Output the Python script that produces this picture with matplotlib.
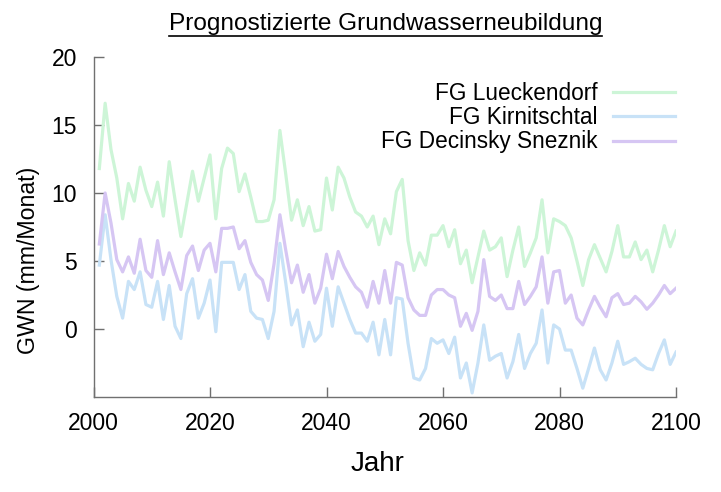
import numpy as np
import matplotlib
matplotlib.use('Agg')
import matplotlib.pyplot as plt
from matplotlib.lines import Line2D

# --- Daten (Jahreswerte 2001-2100) ---
jahre = list(range(2001, 2101))

lueckendorf = [
    11.8, 16.6, 13.2, 11.1, 8.1, 10.7, 9.4, 11.9, 10.2, 9.0,
    10.8, 8.3, 12.3, 9.5, 6.8, 9.2, 11.6, 9.4, 11.1, 12.8,
    8.1, 11.8, 13.3, 12.9, 10.1, 11.4, 9.7, 7.9, 7.9, 8.0,
    9.5, 14.6, 11.4, 8.0, 9.5, 7.6, 9.0, 7.2, 7.3, 11.1,
    8.75, 11.9, 11.1, 9.7, 8.6, 8.3, 7.5, 8.3, 6.2, 8.1,
    7.0, 10.1, 11.0, 6.5, 4.3, 5.6, 4.7, 6.9, 6.9, 7.6,
    6.05, 7.3, 4.8, 5.8, 3.4, 5.3, 7.2, 5.8, 6.05, 6.7,
    3.85, 5.8, 7.5, 4.6, 5.6, 6.7, 9.5, 5.6, 8.1, 7.9,
    7.6, 6.7, 5.0, 3.2, 5.1, 6.2, 5.2, 4.2, 5.7, 7.6,
    5.3, 5.3, 6.4, 5.1, 5.8, 4.2, 5.8, 7.6, 6.05, 7.2,
]

kirnitschtal = [
    4.7, 8.4, 5.1, 2.4, 0.8, 3.5, 2.9, 4.2, 1.8, 1.6,
    3.5, 0.7, 3.2, 0.2, -0.7, 2.6, 3.7, 0.8, 1.9, 3.6,
    -0.2, 4.9, 4.9, 4.9, 2.9, 4.0, 1.3, 0.8, 0.7, -0.7,
    1.3, 6.3, 3.4, 0.3, 1.4, -1.3, 0.5, -0.9, -0.4, 3.0,
    0.2, 3.1, 1.9, 0.7, -0.3, -0.3, -0.9, 0.5, -1.9, 0.7,
    -1.9, 2.3, 2.2, -1.05, -3.6, -3.75, -2.9, -0.7, -1.05, -0.8,
    -1.8, -0.6, -3.6, -2.5, -4.7, -2.5, 0.3, -2.3, -2.0, -1.8,
    -3.6, -2.4, -0.4, -2.9, -1.8, -1.05, 1.4, -2.5, 0.3, 0.0,
    -1.55, -1.55, -2.9, -4.35, -2.9, -1.4, -3.0, -3.75, -2.5, -0.9,
    -2.6, -2.4, -2.15, -2.6, -2.9, -3.0, -1.8, -0.8, -2.6, -1.7,
]

decinsky = [
    6.25, 10.0, 7.8, 5.1, 4.2, 5.3, 4.1, 6.6, 4.3, 3.8,
    6.5, 4.0, 5.6, 4.2, 2.9, 5.4, 6.1, 4.3, 5.8, 6.3,
    4.2, 7.4, 7.4, 7.5, 5.9, 6.5, 4.9, 4.0, 3.6, 2.1,
    4.8, 8.4, 5.8, 3.4, 4.7, 2.7, 4.0, 1.9, 3.0, 5.5,
    3.7, 5.7, 4.6, 3.8, 3.1, 2.7, 1.6, 3.5, 1.9, 4.3,
    1.9, 4.9, 4.7, 2.3, 1.4, 1.0, 1.0, 2.5, 2.9, 2.9,
    2.5, 2.3, 0.2, 1.15, -0.1, 1.3, 5.1, 2.4, 2.1, 2.5,
    1.5, 1.5, 3.5, 1.8, 2.4, 3.1, 5.3, 1.9, 4.2, 4.3,
    1.9, 2.5, 0.8, 0.3, 1.4, 2.4, 1.6, 0.9, 2.3, 2.6,
    1.8, 1.9, 2.4, 2.0, 1.45, 1.9, 2.5, 3.2, 2.6, 3.0,
]

namen = ['FG Lueckendorf', 'FG Kirnitschtal', 'FG Decinsky Sneznik']
farben = ['#cdf5d7', '#c8e2f7', '#d6c6f3']

x_ticks = [2000, 2020, 2040, 2060, 2080, 2100]
y_ticks = [0, 5, 10, 15, 20]

# --- Schrift ---
plt.rcParams['font.family'] = ['Liberation Sans', 'DejaVu Sans']

fig = plt.figure(figsize=(7.21, 4.92), dpi=100)
ax = fig.add_axes([93.5 / 721, 95 / 492, (676 - 93.5) / 721, (397 - 57) / 492])

for werte, name, farbe in zip([lueckendorf, kirnitschtal, decinsky], namen, farben):
    ax.plot(jahre, werte, color=farbe, linewidth=2.3, label=name)

ax.set_xlim(2000, 2100)
ax.set_ylim(-5, 20)
ax.set_xticks(x_ticks)
ax.set_yticks(y_ticks)

# gnuplot-Optik: nur linke und untere Achse, Ticks nach innen
for s in ['top', 'right']:
    ax.spines[s].set_visible(False)
for s in ['left', 'bottom']:
    ax.spines[s].set_color('#707070')
    ax.spines[s].set_linewidth(1.0)
ax.tick_params(direction='in', length=7, width=1.0, color='#707070',
               labelsize=16.5, pad=12)
ax.tick_params(axis='x', pad=11)

ax.set_xlabel('Jahr', fontsize=20)
ax.xaxis.set_label_coords(0.488, -0.16)
fig.text(29 / 721, 1 - 260 / 492, 'GWN (mm/Monat)', rotation=90,
         ha='center', va='center', fontsize=16.7)

leg = ax.legend(loc='upper right', bbox_to_anchor=(0.998, 0.926), frameon=False,
                markerfirst=False, fontsize=16.3, handlelength=2.75,
                handletextpad=0.66, labelspacing=0.05, borderaxespad=0.0,
                borderpad=0.0)
for t in leg.get_texts():
    t.set_ha('right')
leg._legend_box.align = 'right'

titel = fig.text(385.5 / 721, 1 - 24 / 492, 'Prognostizierte Grundwasserneubildung',
                 ha='center', va='center', fontsize=17.6)

# Unterstreichung des Titels
fig.canvas.draw()
bb = titel.get_window_extent().transformed(fig.transFigure.inverted())
fig.add_artist(Line2D([bb.x0, bb.x1], [bb.y0 - 0.002, bb.y0 - 0.002],
                      color='black', linewidth=1.2, transform=fig.transFigure))

plt.savefig('out.png', dpi=100)
plt.close(fig)
